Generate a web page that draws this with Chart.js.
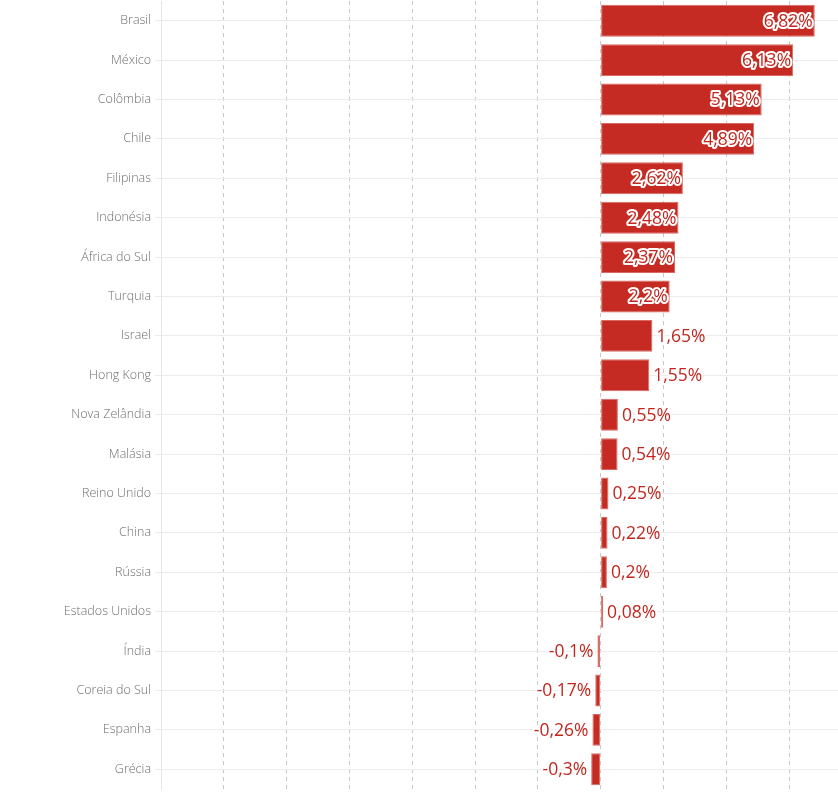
<!DOCTYPE html>
<html><head><meta charset="utf-8">
<script src="https://cdn.jsdelivr.net/npm/chart.js@4"></script>
<style>html,body{margin:0;padding:0;background:#fff}#wrap{width:838px;height:792px}</style>
</head><body><div id="wrap"><canvas id="c"></canvas></div>
<script>
const categories = ["Brasil","México","Colômbia","Chile","Filipinas","Indonésia","África do Sul","Turquia","Israel","Hong Kong","Nova Zelândia","Malásia","Reino Unido","China","Rússia","Estados Unidos","Índia","Coreia do Sul","Espanha","Grécia"];
const values = [6.82,6.13,5.13,4.89,2.62,2.48,2.37,2.2,1.65,1.55,0.55,0.54,0.25,0.22,0.2,0.08,-0.1,-0.17,-0.26,-0.3];
const insideThreshold = 2;
const fmt = v => String(v).replace('.', ',') + '%';

const labelPlugin = {
  id: 'valueLabels',
  afterDatasetsDraw(chart) {
    const ctx = chart.ctx;
    const meta = chart.getDatasetMeta(0);
    ctx.save();
    ctx.font = '17.5px "Open Sans"';
    ctx.textBaseline = 'middle';
    ctx.lineJoin = 'round';
    meta.data.forEach((bar, i) => {
      const v = values[i];
      const t = fmt(v);
      let x;
      if (v >= insideThreshold) { ctx.textAlign = 'right'; x = bar.x - 2; }
      else if (v >= 0) { ctx.textAlign = 'left'; x = bar.x + 4; }
      else { ctx.textAlign = 'right'; x = bar.x - 4; }
      ctx.strokeStyle = '#fff';
      ctx.lineWidth = 4;
      ctx.strokeText(t, x, bar.y + 1);
      ctx.fillStyle = '#c1271f';
      ctx.fillText(t, x, bar.y + 1);
    });
    ctx.restore();
  }
};

new Chart(document.getElementById('c'), {
  type: 'bar',
  data: {
    labels: categories,
    datasets: [{
      data: values,
      backgroundColor: '#c52b22',
      borderColor: '#d86a63',
      borderWidth: 1,
      borderSkipped: false,
      categoryPercentage: 0.81,
      barPercentage: 1
    }]
  },
  options: {
    indexAxis: 'y',
    responsive: true,
    maintainAspectRatio: false,
    animation: false,
    layout: { autoPadding: false, padding: { top: 1, bottom: 3, left: 0, right: 0 } },
    plugins: { legend: { display: false }, tooltip: { enabled: false } },
    scales: {
      x: {
        type: 'linear',
        min: -14,
        max: 7.56,
        afterBuildTicks: s => { s.ticks = s.ticks.filter(t => Math.abs(t.value % 2) < 1e-9); },
        afterFit: s => { s.height = 0; s.paddingLeft = 0; s.paddingRight = 0; s.paddingTop = 0; s.paddingBottom = 0; },
        ticks: { display: false, stepSize: 2 },
        grid: { color: '#c8c8c8', lineWidth: 1, drawTicks: false },
        border: { display: false, dash: [4,4] }
      },
      y: {
        afterFit: s => { s.width = 161; s.paddingTop = 0; s.paddingBottom = 0; s.paddingLeft = 0; s.paddingRight = 0; },
        ticks: { color: '#6e6e6e', font: { family: 'Open Sans', size: 12.5, weight: 300 }, padding: 4 },
        grid: { color: '#ececec', lineWidth: 1, offset: false, tickLength: 6 },
        border: { display: true, color: '#e6e6e6' }
      }
    }
  },
  plugins: [labelPlugin]
});
</script></body></html>
